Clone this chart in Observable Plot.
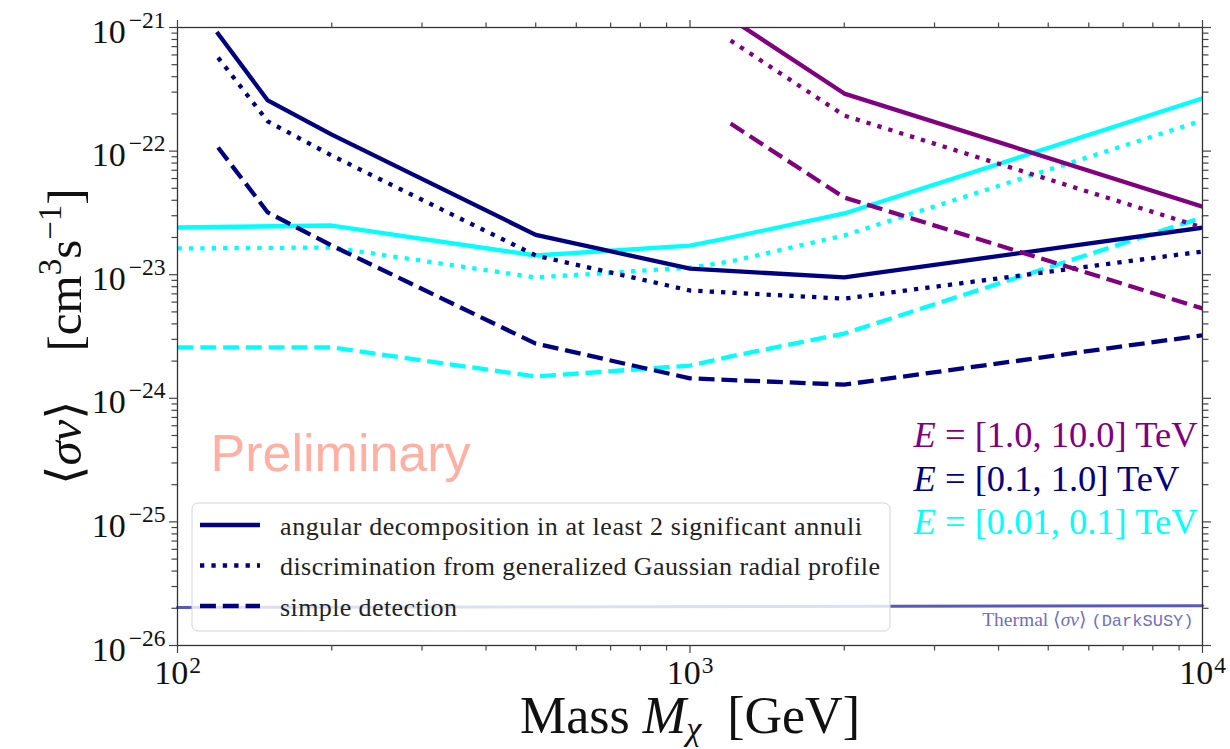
<!DOCTYPE html>
<html><head><meta charset="utf-8">
<script src="https://cdn.jsdelivr.net/npm/d3@7"></script>
<script src="https://cdn.jsdelivr.net/npm/@observablehq/plot@0.6"></script>
<style>body{margin:0;background:#fff} svg{display:block}</style>
</head><body><div id="chart"></div>
<script>
// ---------------- data ----------------
const massNavy = [120, 150, 200, 500, 1000, 2000, 10000];
const navyAngular = [8.9e-22, 2.57e-22, 1.36e-22, 2.1e-23, 1.12e-23, 9.5e-24, 2.4e-23];
const navyGauss   = [5.7e-22, 1.74e-22, 9.2e-23, 1.43e-23, 7.45e-24, 6.4e-24, 1.54e-23];
const navySimple  = [1.07e-22, 3.19e-23, 1.72e-23, 2.77e-24, 1.45e-24, 1.29e-24, 3.23e-24];

const massCyan = [100, 200, 500, 1000, 1200, 2000, 10000];
const cyanAngular = [2.41e-23, 2.5e-23, 1.43e-23, 1.72e-23, 2.0e-23, 3.13e-23, 2.67e-22];
const cyanGauss   = [1.63e-23, 1.66e-23, 9.5e-24, 1.14e-23, 1.28e-23, 2.08e-23, 1.77e-22];
const cyanSimple  = [2.58e-24, 2.58e-24, 1.5e-24, 1.84e-24, 2.18e-24, 3.34e-24, 2.9e-23];

const massPurple = [1200, 2000, 10000];
const purpleAngular = [1.18e-21, 2.92e-22, 3.56e-23];
const purpleGauss   = [7.85e-22, 1.94e-22, 2.41e-23];
const purpleSimple  = [1.67e-22, 4.21e-23, 5.33e-24];

const massThermal = [100, 10000];
const thermalSigmaV = [2.03e-26, 2.1e-26];

const energyLabels = ["[1.0, 10.0]", "[0.1, 1.0]", "[0.01, 0.1]"];
const methodLabels = [
  "angular decomposition in at least 2 significant annuli",
  "discrimination from generalized Gaussian radial profile",
  "simple detection"
];
const xTicks = [100, 1000, 10000];
const xTickExp = ["2", "3", "4"];
const yTicks = [1e-26, 1e-25, 1e-24, 1e-23, 1e-22, 1e-21];
const yTickExp = ["−26", "−25", "−24", "−23", "−22", "−21"];

// ---------------- styling ----------------
const COLORS = {high: "#800080", mid: "#000080", low: "#00ffff"};
const LW = 4.3;
const DASH = {angular: null, gauss: `${LW},${LW * 1.65}`, simple: `${LW * 3.7},${LW * 1.6}`};
const SERIF = "'Liberation Serif', 'DejaVu Serif', serif";

const rows = [];
function add(energy, method, masses, values) {
  masses.forEach((m, i) => rows.push({energy, method, mass: m, value: values[i]}));
}
add("low", "angular", massCyan, cyanAngular);
add("low", "gauss", massCyan, cyanGauss);
add("low", "simple", massCyan, cyanSimple);
add("mid", "angular", massNavy, navyAngular);
add("mid", "gauss", massNavy, navyGauss);
add("mid", "simple", massNavy, navySimple);
add("high", "angular", massPurple, purpleAngular);
add("high", "gauss", massPurple, purpleGauss);
add("high", "simple", massPurple, purpleSimple);

const thermalRows = massThermal.map((m, i) => ({mass: m, value: thermalSigmaV[i]}));

const lineMarks = [];
for (const energy of ["low", "mid", "high"]) {
  for (const method of ["angular", "gauss", "simple"]) {
    lineMarks.push(Plot.line(rows.filter(d => d.energy === energy && d.method === method), {
      x: "mass", y: "value", stroke: COLORS[energy], strokeWidth: LW,
      strokeDasharray: DASH[method], strokeLinecap: method === "angular" ? "square" : "butt",
      strokeLinejoin: "round", clip: true
    }));
  }
}

const xMinor = [];
for (const b of [100, 1000]) for (let k = 2; k <= 9; k++) xMinor.push(k * b);
const yMinor = [];
for (let e = -26; e <= -22; e++) for (let k = 2; k <= 9; k++) yMinor.push(k * Math.pow(10, e));

const energyText = energyLabels.map((l, i) => ({
  label: "E = " + l + " TeV", color: [COLORS.high, COLORS.mid, COLORS.low][i],
  x: 2730, y: [4.0e-25, 1.79e-25, 8.05e-26][i]
}));

const axisStyle = {stroke: "#444", strokeWidth: 1.2, tickFormat: () => "", label: null};

const chart = Plot.plot({
  width: 1230, height: 749,
  marginLeft: 177, marginRight: 28, marginTop: 27, marginBottom: 104,
  style: {background: "white", overflow: "visible"},
  x: {type: "log", domain: [100, 10000]},
  y: {type: "log", domain: [1e-26, 1e-21]},
  marks: [
    ...lineMarks,
    Plot.line(thermalRows, {x: "mass", y: "value", stroke: "#3c3cae", strokeOpacity: 0.85, strokeWidth: 3}),
    Plot.text([{t: "Thermal ⟨σv⟩ (DarkSUSY)"}], {text: "t", frameAnchor: "bottom-right", dx: -9, dy: -20,
      textAnchor: "end", lineAnchor: "bottom", fill: "#6f6fc4", fontSize: 19.5, fontFamily: SERIF}),
    Plot.text([{x: 116, y: 2.56e-25, t: "Preliminary"}], {x: "x", y: "y", text: "t", textAnchor: "start", lineAnchor: "bottom",
      fill: "#ffb0a3", fontSize: 52, fontFamily: "'Liberation Sans', Arial, sans-serif"}),
    Plot.text(energyText, {x: "x", y: "y", text: "label", fill: "color", textAnchor: "start", lineAnchor: "bottom",
      fontSize: 36.5, fontFamily: SERIF}),
    Plot.frame({stroke: "#333", strokeWidth: 1.3}),
    Plot.axisX(xTicks, {anchor: "bottom", tickSize: 8, ...axisStyle}),
    Plot.axisX(xMinor, {anchor: "bottom", tickSize: 5.5, ...axisStyle}),
    Plot.axisX(xTicks, {anchor: "top", tickSize: 8, ...axisStyle}),
    Plot.axisX(xMinor, {anchor: "top", tickSize: 5.5, ...axisStyle}),
    Plot.axisY(yTicks, {anchor: "left", tickSize: 8, ...axisStyle}),
    Plot.axisY(yMinor, {anchor: "left", tickSize: 5.5, ...axisStyle}),
    Plot.axisY(yTicks, {anchor: "right", tickSize: 8, ...axisStyle}),
    Plot.axisY(yMinor, {anchor: "right", tickSize: 5.5, ...axisStyle}),
    Plot.text(xTicks.map((v, i) => ({v, t: "10^" + xTickExp[i]})), {x: "v", text: "t", frameAnchor: "bottom", dy: 38,
      textAnchor: "middle", lineAnchor: "bottom", fontSize: 34, fontFamily: SERIF, fill: "#111"}),
    Plot.text(yTicks.map((v, i) => ({v, t: "10^" + yTickExp[i]})), {y: "v", text: "t", frameAnchor: "left", dx: -12, dy: 15,
      textAnchor: "end", lineAnchor: "bottom", fontSize: 34, fontFamily: SERIF, fill: "#111"}),
    Plot.text([{t: "Mass M_χ [GeV]"}], {text: "t", frameAnchor: "bottom", dy: 87, textAnchor: "middle", lineAnchor: "bottom",
      fontSize: 52, fontFamily: SERIF, fill: "#111"}),
    Plot.text([{t: "⟨σv⟩ [cm3 s-1]"}], {text: "t", frameAnchor: "left", dx: -97, rotate: -90, textAnchor: "middle",
      lineAnchor: "bottom", fontSize: 49, fontFamily: SERIF, fill: "#111"})
  ]
});

document.getElementById("chart").appendChild(chart);
const svg = d3.select(chart);

function rich(sel, parts) {
  sel.text(null);
  for (const p of parts) {
    const ts = sel.append("tspan").text(p.t);
    if (p.italic) ts.attr("font-style", "italic");
    if (p.size) ts.attr("font-size", p.size);
    if (p.dy) ts.attr("dy", p.dy);
    if (p.family) ts.attr("font-family", p.family);
    if (p.dx) ts.attr("dx", p.dx);
  }
}

svg.selectAll("text").each(function() {
  const t = d3.select(this);
  const s = t.text();
  if (s.startsWith("10^")) {
    const exp = s.slice(3);
    if (exp.startsWith("−")) rich(t, [{t: "10"}, {t: exp, size: 23.5, dy: -15, dx: 3}]);
    else rich(t, [{t: "10"}, {t: exp, size: 23.5, dy: -11, dx: 1}]);
  } else if (s.startsWith("E = ")) {
    rich(t, [{t: "E", italic: true}, {t: s.slice(1)}]);
  } else if (s.startsWith("Thermal")) {
    rich(t, [{t: "Thermal ⟨"}, {t: "σv", italic: true}, {t: "⟩ "},
             {t: "(DarkSUSY)", family: "'Liberation Mono', 'DejaVu Sans Mono', monospace", size: 17}]);
  } else if (s.startsWith("Mass")) {
    rich(t, [{t: "Mass "}, {t: "M", italic: true}, {t: "χ", italic: true, size: 34, dy: 7},
             {t: "\u2002[GeV]", dy: -7}]);
  } else if (s.startsWith("⟨σv⟩")) {
    rich(t, [{t: "⟨"}, {t: "σv", italic: true}, {t: "⟩\u2003[cm"}, {t: "3", size: 33, dy: -20},
             {t: "s", dy: 20}, {t: "−1", size: 33, dy: -20}, {t: "]", dy: 20}]);
  }
});

// ---------------- legend ----------------
const leg = svg.append("g").attr("class", "legend");
leg.append("rect").attr("x", 192).attr("y", 503).attr("width", 698).attr("height", 128).attr("rx", 6)
  .attr("fill", "white").attr("fill-opacity", 0.8).attr("stroke", "#d4d4d4").attr("stroke-width", 1);
const legTargets = [582, 600, 177];
["angular", "gauss", "simple"].forEach((m, i) => {
  const yy = 525 + i * 40.5;
  leg.append("line").attr("x1", 200).attr("x2", 260).attr("y1", yy).attr("y2", yy)
    .attr("stroke", COLORS.mid).attr("stroke-width", LW)
    .attr("stroke-dasharray", DASH[m]).attr("stroke-linecap", "butt");
  leg.append("text").attr("x", 280).attr("y", yy + 9.5).attr("font-family", SERIF).attr("font-size", 26)
    .attr("text-anchor", "start")
    .attr("fill", "#222").attr("textLength", legTargets[i]).attr("lengthAdjust", "spacing").text(methodLabels[i]);
});
</script></body></html>
